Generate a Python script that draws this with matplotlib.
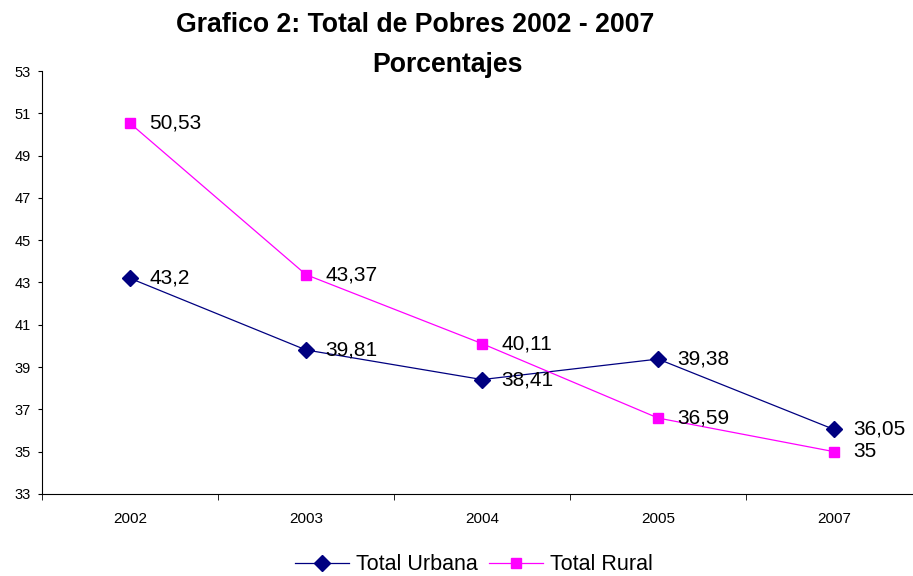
import matplotlib
matplotlib.use("Agg")
import matplotlib.pyplot as plt

plt.rcParams['font.family'] = ['Liberation Sans', 'DejaVu Sans']

years = ['2002', '2003', '2004', '2005', '2007']
urbana = [43.2, 39.81, 38.41, 39.38, 36.05]
rural = [50.53, 43.37, 40.11, 36.59, 35]
urbana_lbl = ['43,2', '39,81', '38,41', '39,38', '36,05']
rural_lbl = ['50,53', '43,37', '40,11', '36,59', '35']

fig = plt.figure(figsize=(9.13, 5.76), dpi=100)
ax = fig.add_axes([0.046, 0.1424, 0.964, 0.7343])

x = range(len(years))
ax.plot(x, urbana, color='#000080', lw=0.9, marker='D', markersize=8,
        label='Total Urbana')
ax.plot(x, rural, color='#FF00FF', lw=0.9, marker='s', markersize=7.5,
        label='Total Rural')

# etiquetas de datos a la derecha de cada punto
for i in x:
    ax.annotate(urbana_lbl[i], (i, urbana[i]), xytext=(14, 0), textcoords='offset points',
                va='center', ha='left', fontsize=15)
    ax.annotate(rural_lbl[i], (i, rural[i]), xytext=(14, 0), textcoords='offset points',
                va='center', ha='left', fontsize=15)

ax.set_xlim(-0.5, 4.5)
ax.set_ylim(33, 53)
ax.set_yticks(range(33, 54, 2))
ax.set_xticks(x)
ax.set_xticklabels(years)
ax.set_xticks([i + 0.5 for i in range(-1, 5)], minor=True)
ax.tick_params(axis='x', which='major', length=0, pad=13, labelsize=11)
ax.tick_params(axis='x', which='minor', length=4, direction='out')
ax.tick_params(axis='y', length=3, labelsize=10.5, pad=5)

for s in ['top', 'right']:
    ax.spines[s].set_visible(False)
ax.spines['left'].set_linewidth(0.8)
ax.spines['bottom'].set_linewidth(0.8)

fig.text(415 / 913, 1 - 32 / 576, 'Grafico 2: Total de Pobres 2002 - 2007', ha='center',
         va='baseline', fontsize=19.2, fontweight='bold')
fig.text(447 / 913, 1 - 72 / 576, 'Porcentajes', ha='center', va='baseline',
         fontsize=19.2, fontweight='bold')

fig.legend(loc='center', bbox_to_anchor=(474 / 913, 1 - 565 / 576), ncol=2, frameon=False,
           fontsize=15.5, handlelength=2.5, columnspacing=0.5, handletextpad=0.33)

fig.savefig('out.png', dpi=100)
